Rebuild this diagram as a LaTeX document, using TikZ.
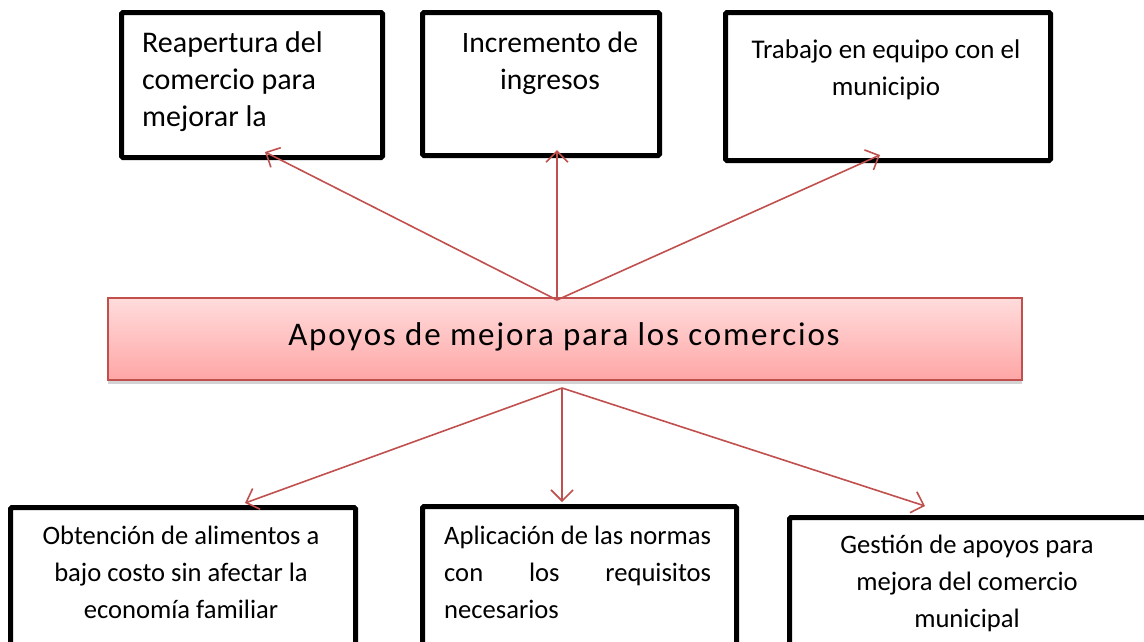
\documentclass[tikz,border=0pt]{standalone}
\usepackage{fontspec}
\setmainfont{Carlito}
\usetikzlibrary{arrows.meta,shadows,calc}
\definecolor{linkred}{RGB}{192,80,77}
\definecolor{pinktop}{RGB}{255,220,220}
\definecolor{pinkbot}{RGB}{255,166,166}
\tikzset{
  box/.style={draw=black,line width=5pt,rounded corners=1.5pt,fill=white,anchor=north west,inner sep=0pt},
  txt/.style={inner sep=0pt,anchor=base,font=\fontsize{30}{37}\selectfont},
  btxt/.style={inner sep=0pt,anchor=base,font=\fontsize{26.6}{37}\selectfont},
  link/.style={draw=linkred,line width=1.6pt,-{Straight Barb[length=11pt,width=22pt,line width=1.6pt]}}
}
\begin{document}
\begin{tikzpicture}[x=1pt,y=-1pt]
\useasboundingbox (0,0) rectangle (1144,641);
% top boxes
\node[box,minimum width=261pt,minimum height=145pt] (b1) at (119,10) {};
\node[box,minimum width=237pt,minimum height=143pt] (b2) at (420,10) {};
\node[box,minimum width=325pt,minimum height=148pt] (b3) at (723,10) {};
% bottom boxes
\node[box,minimum width=345pt,minimum height=160pt] (b4) at (8,505) {};
\node[box,minimum width=314pt,minimum height=160pt] (b5) at (420,504) {};
\node[box,minimum width=360pt,minimum height=160pt] (b6) at (787,515) {};
% central box
\node[draw=linkred,line width=1.5pt,top color=pinktop,bottom color=pinkbot,
      minimum width=914pt,minimum height=82pt,anchor=north west,inner sep=0pt,
      drop shadow={shadow xshift=0pt,shadow yshift=-4pt,opacity=0.35}] (c) at (107,297) {};
\node[inner sep=0pt,font=\fontsize{33}{40}\selectfont\addfontfeature{LetterSpace=5.5}] (ct) at (564,337) {Apoyos de mejora para los comercios};
% texts (anchored at last baseline)
\node[txt,anchor=base west,align=left] (t1) at (142,126) {Reapertura del\\comercio para\\mejorar la};
\node[txt,align=center,font=\fontsize{29.6}{37}\selectfont] (t2) at (550,89) {Incremento de\\ingresos};
\node[txt,align=center,font=\fontsize{27}{37}\selectfont] (t3) at (886,95) {Trabajo en equipo con el\\municipio};
\node[btxt,align=center] (t4) at (181,618) {Obtención de alimentos a\\bajo costo sin afectar la\\economía familiar};
\node[btxt,anchor=base west,align=left] (t5) at (444,618) {Aplicación de las normas\\\makebox[267pt][s]{con los requisitos}\\necesarios};
\node[btxt,align=center] (t6) at (967,627) {Gestión de apoyos para\\mejora del comercio\\municipal};
% connectors
\coordinate (up) at (557,300);
\coordinate (dn) at (562,388);
\coordinate (e1) at (265,152);
\coordinate (e2) at (557,150);
\coordinate (e3) at (880,155);
\coordinate (e4) at (245,503);
\coordinate (e5) at (562,502);
\coordinate (e6) at (925,506);
\draw[link] (up) -- (e1);
\draw[link] (up) -- (e2);
\draw[link] (up) -- (e3);
\draw[link] (dn) -- (e4);
\draw[link] (dn) -- (e5);
\draw[link] (dn) -- (e6);
\end{tikzpicture}
\end{document}
